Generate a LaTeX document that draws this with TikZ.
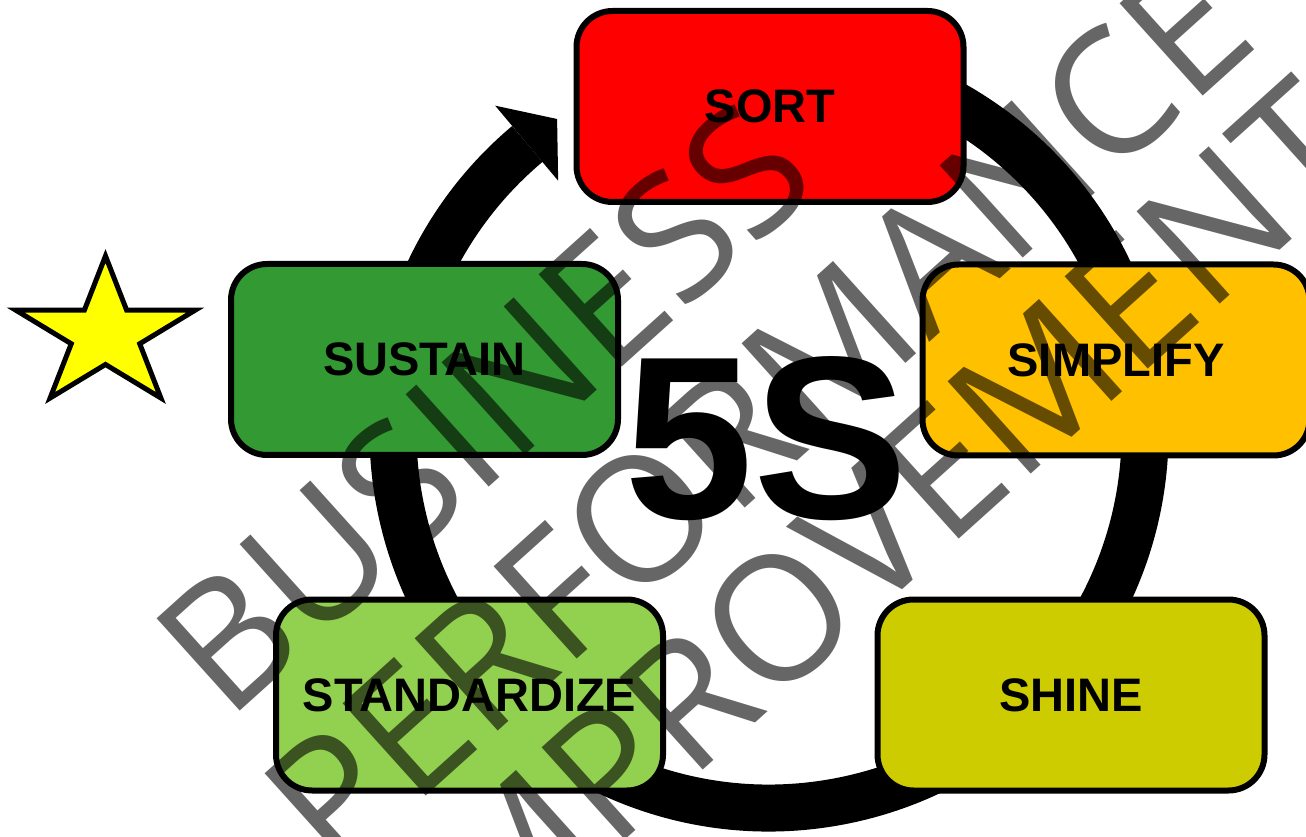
\documentclass[tikz,border=0pt]{standalone}
\usepackage{fontspec}
\setmainfont{Liberation Sans}
\newfontfamily\markfont{Open Sans}
\usetikzlibrary{positioning}

\definecolor{sortred}{RGB}{255,0,0}
\definecolor{simplifyorange}{RGB}{255,192,0}
\definecolor{shineolive}{RGB}{204,204,0}
\definecolor{standardgreen}{RGB}{146,208,80}
\definecolor{sustaingreen}{RGB}{51,153,51}
\definecolor{staryellow}{RGB}{255,255,0}

\begin{document}
\begin{tikzpicture}[
    x=1pt, y=1pt,
    sbox/.style={draw, line width=6pt, rounded corners=36pt,
        minimum width=387pt, minimum height=191pt,
        font=\fontsize{47}{56}\selectfont\bfseries},
    wmark/.style={text=black, text opacity=0.6, rotate=42,
        font=\markfont\fontsize{174}{200}\selectfont},
    ring/.style={line width=47pt}
]
\useasboundingbox (0,0) rectangle (1306,836);

% cycle arrow
\coordinate (c) at (769,404);
\draw[ring] ([shift={(100:376)}]c) arc[start angle=100, end angle=-230, radius=376];
\fill ([shift={(130:426)}]c) -- ([shift={(124.1:378)}]c) -- ([shift={(130:328)}]c) -- cycle;

% the five steps
\node[sbox, fill=sortred] (sort) at (770,729.5) {SORT};
\node[sbox, fill=simplifyorange] (simplify) at (1116,476) {SIMPLIFY};
\node[sbox, fill=shineolive] (shine) at (1071,141) {SHINE};
\node[sbox, fill=standardgreen] (standardize) at (469.5,141) {STANDARDIZE};
\node[sbox, fill=sustaingreen] (sustain) at (424.5,476.5) {SUSTAIN};

\node[font=\fontsize{232}{240}\selectfont\bfseries] (fives) at (766,397) {5S};

% star
\draw[line width=5pt, fill=staryellow, shift={(105.5,501.5)}, xscale=1.2]
    (90:78.5) -- (126:30) -- (162:78.5) -- (198:30) -- (234:78.5) -- (270:30)
    -- (306:78.5) -- (342:30) -- (18:78.5) -- (54:30) -- cycle;

% watermark
\node[wmark] (business) at (484,428) {BUSINESS};
\node[wmark] (performance) at (757,422) {PERFORMANCE};
\node[wmark] (improvement) at (876,306) {IMPROVEMENT};
\end{tikzpicture}
\end{document}
